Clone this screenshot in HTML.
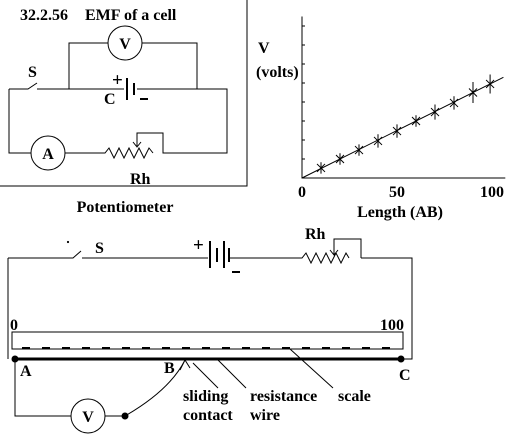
<!DOCTYPE html>
<html><head><meta charset="utf-8"><style>
html,body{margin:0;padding:0;background:#fff;}
svg{display:block;font-family:"Liberation Serif",serif;font-weight:bold;}
text{font-size:16px;}
</style></head><body>
<svg width="510" height="435" viewBox="0 0 510 435" stroke="#000" fill="none" stroke-width="1">
<g>
<path d="M247 0V186H0"/>
<text x="20" y="20" fill="#000" stroke="none">32.2.56</text>
<text x="85" y="20" fill="#000" stroke="none">EMF of a cell</text>
<circle cx="125" cy="43" r="17"/>
<text x="125" y="49" text-anchor="middle" fill="#000" stroke="none">V</text>
<path d="M108 43H69V89M142 43H197V89"/>
<path d="M9 89H28L37 83M37 89H124M137 89H227V153H163V133H137V146M133 142L137 147L141 142M9 89V153H31M65 153H105l4 -5l5 10l5 -10l5 10l5 -10l5 10l5 -10l5 10l5 -10l4 5"/>
<path d="M127 78V100M134 83V95" stroke-width="2"/>
<circle cx="48" cy="153" r="17"/>
<text x="48" y="159" text-anchor="middle" fill="#000" stroke="none">A</text>
<text x="112" y="86" fill="#000" stroke="none" style="font-size:19px">+</text>
<text x="104" y="104" fill="#000" stroke="none">C</text>
<path d="M140 99H148" stroke-width="2"/>
<text x="28" y="77" fill="#000" stroke="none">S</text>
<text x="130" y="184" fill="#000" stroke="none">Rh</text>
<text x="125" y="212" text-anchor="middle" fill="#000" stroke="none">Potentiometer</text>
</g>
<g id="chart"></g>
<g>
<path d="M8 258V359M8 258H73L81 251M82 258H208M230 258H302l4 -5l5 10l5 -10l5 10l5 -10l5 10l5 -10l5 10l5 -10l3 5M361 258H412V359H402M334 254V239H361V258M330 250L334 255L338 250"/>
<circle cx="68" cy="242" r="0.6"/>
<path d="M210 241V268M217 248V262M224 241V268M229 248V262" stroke-width="2"/>
<text x="193" y="251" fill="#000" stroke="none" style="font-size:19px">+</text>
<path d="M232 272H240" stroke-width="2"/>
<text x="95" y="253" fill="#000" stroke="none">S</text>
<text x="305" y="239" fill="#000" stroke="none">Rh</text>
<rect x="12" y="332" width="391" height="17"/>
<path d="M22 348H395" stroke-width="2" stroke-dasharray="8 12"/>
<text x="10" y="330" fill="#000" stroke="none">0</text>
<text x="380" y="330" fill="#000" stroke="none">100</text>
<path d="M15 359H402" stroke-width="3"/>
<circle cx="15" cy="359" r="3" fill="#000"/><circle cx="401" cy="359" r="3" fill="#000"/>
<text x="20" y="376" fill="#000" stroke="none">A</text>
<text x="164" y="373" fill="#000" stroke="none">B</text>
<text x="399" y="380" fill="#000" stroke="none">C</text>
<path d="M15 359V416H71M105 416H125Q170 390 185 360M180 370L185 360L190 368"/>
<circle cx="88" cy="416" r="17"/>
<text x="88" y="422" text-anchor="middle" fill="#000" stroke="none">V</text>
<circle cx="125" cy="416" r="3" fill="#000"/>
<path d="M193 363L218 388M217 359L246 388M290 349L333 388"/>
<text x="183" y="401" fill="#000" stroke="none">sliding</text>
<text x="183" y="420" fill="#000" stroke="none">contact</text>
<text x="250" y="401" fill="#000" stroke="none">resistance</text>
<text x="250" y="420" fill="#000" stroke="none">wire</text>
<text x="338" y="401" fill="#000" stroke="none">scale</text>
</g>
</svg>
<script>
const lengths=[10,20,30,40,50,60,70,80,90,99];
const volts=[0.53,1.0,1.47,1.95,2.47,3.0,3.47,3.95,4.5,4.95];
const errs=[0.3,0.3,0.3,0.35,0.35,0.3,0.4,0.35,0.55,0.5];
const xTicks=[0,50,100];
const yTicks=[1,2,3,4,5,6,7,8];
const fitEnd=106;
const NS="http://www.w3.org/2000/svg";
const g=document.getElementById('chart');
const X=v=>302+v*1.9, Y=v=>178-v*19;
function mk(t,a){const e=document.createElementNS(NS,t);for(const k in a)e.setAttribute(k,a[k]);g.appendChild(e);return e;}
const ax=mk('path',{d:`M${X(0)} ${Y(8.5)}V${Y(0)}H${X(107)}`});


yTicks.forEach(t=>{const e=mk('path',{d:`M${X(0)} ${Y(t)}h3`});

});
xTicks.forEach(t=>{const e=mk('text',{x:X(t),y:197,'text-anchor':'middle',fill:'#000',stroke:'none'});e.textContent=t;

});
const fl=mk('path',{d:`M${X(0)} ${Y(0)}L${X(fitEnd)} ${Y(fitEnd*0.05)}`});


lengths.forEach((l,i)=>{const x=X(l),y=Y(volts[i]),h=errs[i]*19;
const p=mk('path',{d:`M${x-4} ${y-4}L${x+4} ${y+4}M${x+4} ${y-4}L${x-4} ${y+4}M${x} ${y-h}V${y+h}`});

});
const t1=mk('text',{x:258,y:53,fill:'#000',stroke:'none'});t1.textContent='V';


const t2=mk('text',{x:256,y:77,fill:'#000',stroke:'none'});t2.textContent='(volts)';


const t3=mk('text',{x:400,y:217,'text-anchor':'middle',fill:'#000',stroke:'none'});t3.textContent='Length (AB)';


</script>
</body></html>
